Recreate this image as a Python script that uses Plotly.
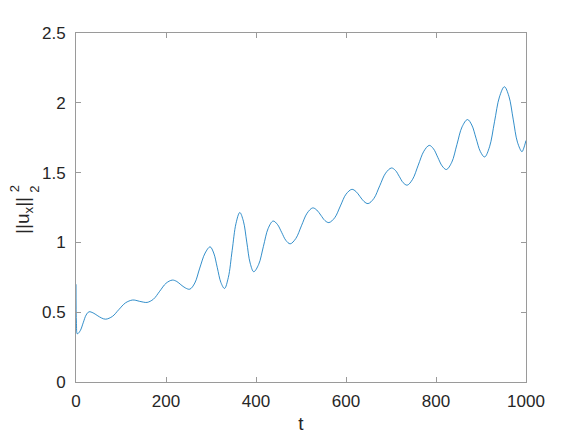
import plotly.graph_objects as go

# Time samples (extrema and points along each swing)
t_vals = [0, 1, 3, 9.5, 16, 22.5, 29, 38, 47, 57, 66, 81, 95, 110, 125, 133, 141, 150, 158,
          172, 186, 200, 214, 224, 233, 243, 253, 264, 275, 287, 298, 306, 314, 322, 330,
          338.5, 347, 355.5, 364, 372, 379.5, 387, 395, 406, 416.5, 427, 438, 447.5, 457,
          466.5, 476, 488.5, 501, 513.5, 526, 535, 544, 553, 562, 575, 587.5, 600, 613,
          622, 631, 640, 649, 662, 675, 688, 701, 710, 718.5, 727, 736, 748, 760.5, 773,
          785, 794.5, 804, 813.5, 823, 835, 846.5, 858, 870, 879.5, 889, 898.5, 908, 919,
          930, 941, 952, 962, 971.5, 981, 991, 995, 1000]
# ||u_x||_2^2 values
ux_norm = [0.70, 0.42, 0.345, 0.368, 0.424, 0.480, 0.503, 0.495, 0.477, 0.458, 0.450,
           0.470, 0.518, 0.567, 0.587, 0.585, 0.578, 0.572, 0.570, 0.593, 0.650, 0.707,
           0.730, 0.720, 0.697, 0.674, 0.665, 0.709, 0.816, 0.924, 0.968, 0.924, 0.819,
           0.713, 0.670, 0.749, 0.942, 1.135, 1.214, 1.152, 1.002, 0.852, 0.790, 0.843,
           0.972, 1.100, 1.153, 1.129, 1.072, 1.014, 0.990, 1.028, 1.119, 1.209, 1.247,
           1.232, 1.195, 1.157, 1.142, 1.177, 1.261, 1.345, 1.380, 1.365, 1.329, 1.293,
           1.278, 1.315, 1.406, 1.496, 1.533, 1.515, 1.472, 1.428, 1.410, 1.452, 1.553,
           1.653, 1.695, 1.670, 1.609, 1.548, 1.522, 1.574, 1.701, 1.828, 1.880, 1.841,
           1.746, 1.651, 1.612, 1.685, 1.864, 2.042, 2.115, 2.047, 1.883, 1.718, 1.650,
           1.675, 1.730]

x_ticks = [0, 200, 400, 600, 800, 1000]
y_ticks = [0, 0.5, 1, 1.5, 2, 2.5]
y_tick_labels = ["0", "0.5", "1", "1.5", "2", "2.5"]

FONT = "Liberation Sans, Arial, sans-serif"
AXC = "#9a9a9a"
TXT = "#262626"

fig = go.Figure()
fig.add_trace(go.Scatter(x=t_vals, y=ux_norm, mode="lines",
                         line=dict(color="#0072BD", width=0.8, shape="spline", smoothing=1.0),
                         showlegend=False))

axis_common = dict(showline=True, linecolor=AXC, linewidth=1, mirror="ticks",
                   ticks="inside", ticklen=5, tickcolor=AXC, tickwidth=1,
                   showgrid=False, zeroline=False,
                   tickfont=dict(family=FONT, size=17, color=TXT))

# page body has an 8px default margin; margins compensate for it
fig.update_layout(
    width=581, height=436,
    margin=dict(l=68, r=63, t=25, b=62),
    paper_bgcolor="white", plot_bgcolor="white",
    xaxis=dict(range=[0, 1000], tickvals=x_ticks, ticklabelstandoff=4,
               title=dict(text="t", font=dict(family=FONT, size=19, color=TXT), standoff=6),
               **axis_common),
    yaxis=dict(range=[0, 2.5], tickvals=y_ticks, ticktext=y_tick_labels, ticklabelstandoff=6,
               **axis_common),
)

fig.add_annotation(text="||u<sub>x</sub>||", textangle=-90, xref="paper", yref="paper",
                   x=-0.116, y=0.478, xanchor="center", yanchor="middle", showarrow=False,
                   font=dict(family=FONT, size=19, color=TXT))
fig.add_annotation(text="2", textangle=-90, xref="paper", yref="paper",
                   x=-0.137, y=0.553, xanchor="center", yanchor="middle", showarrow=False,
                   font=dict(family=FONT, size=13, color=TXT))
fig.add_annotation(text="2", textangle=-90, xref="paper", yref="paper",
                   x=-0.094, y=0.553, xanchor="center", yanchor="middle", showarrow=False,
                   font=dict(family=FONT, size=13, color=TXT))

fig.write_html("out.html")
